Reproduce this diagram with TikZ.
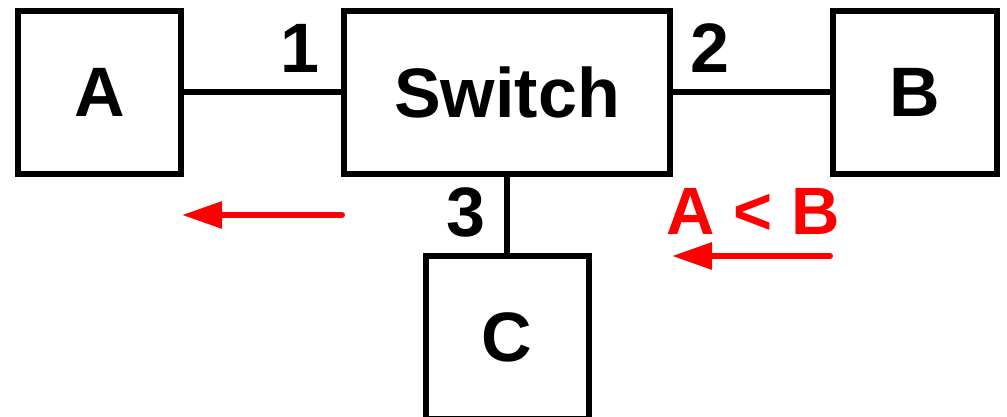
\documentclass[tikz,border=0pt]{standalone}
\usepackage{fontspec}
\setmainfont{Liberation Sans}
\usetikzlibrary{arrows.meta}
\definecolor{myred}{RGB}{255,0,0}
\tikzset{
  box/.style={draw=black, line width=6pt, inner sep=0pt, font=\bfseries\fontsize{70}{84}\selectfont},
  lbl/.style={inner sep=0pt, font=\bfseries\fontsize{70}{84}\selectfont},
  wire/.style={line width=6pt, draw=black},
  redarrow/.style={draw=myred, line width=6pt, line cap=round, -{Triangle[length=40pt,width=26pt]}},
}
\begin{document}
\begin{tikzpicture}[x=1pt,y=-1pt]
\useasboundingbox (0,0) rectangle (1007,417);
\node[box, minimum width=163pt, minimum height=163pt] (A) at (99.5,92.5) {A};
\node[box, minimum width=326pt, minimum height=163pt] (S) at (507,92.5) {Switch};
\node[box, minimum width=164pt, minimum height=163pt] (B) at (915,92.5) {B};
\node[box, minimum width=163pt, minimum height=163pt] (C) at (507,337.5) {C};
\draw[wire] (A) -- (S);
\draw[wire] (S) -- (B);
\draw[wire] (S) -- (C);
\node[lbl] (n1) at (300,48) {1};
\node[lbl] (n2) at (710,48) {2};
\node[lbl] (n3) at (466,212) {3};
\node[lbl, text=myred, font=\bfseries\fontsize{67}{80}\selectfont] (cmp) at (753.5,211) {A < B};
\coordinate (a1s) at (342,215);
\coordinate (a1e) at (182,215);
\coordinate (a2s) at (830,256);
\coordinate (a2e) at (672,256);
\draw[redarrow] (a1s) -- (a1e);
\draw[redarrow] (a2s) -- (a2e);
\end{tikzpicture}
\end{document}
